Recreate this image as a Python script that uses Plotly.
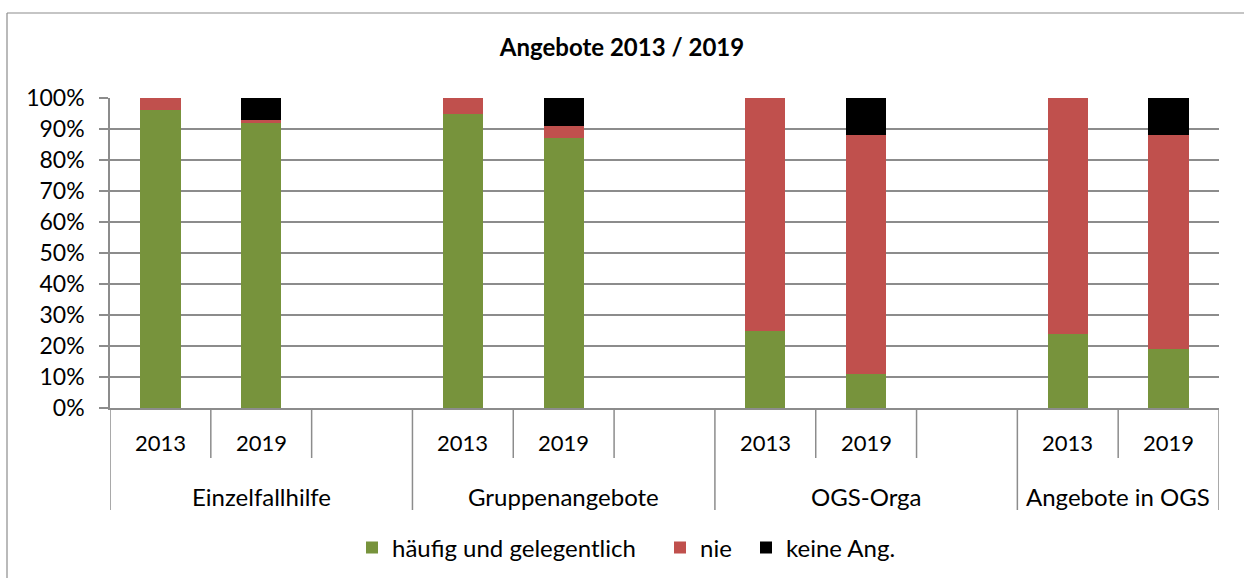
import plotly.graph_objects as go

groups = ["Einzelfallhilfe", "Gruppenangebote", "OGS-Orga", "Angebote in OGS"]
years = ["2013", "2019"]
series_names = ["häufig und gelegentlich", "nie", "keine Ang."]
haeufig = [96, 92, 95, 87, 25, 11, 24, 19]
nie = [4, 1, 5, 4, 75, 77, 76, 69]
keine = [0, 7, 0, 9, 0, 12, 0, 12]
y_ticks = [0, 10, 20, 30, 40, 50, 60, 70, 80, 90, 100]
title_text = "Angebote 2013 / 2019"

colors = ["#77933C", "#C0504D", "#000000"]
FONT = "Lato"
FS = 24
GRID = "#8C8C8C"
FW, FH = 1244, 578

# slot positions: each group has 2 year slots followed by an empty slot
pos = []
for g in range(len(groups)):
    for k in range(len(years)):
        pos.append(3 * g + k)
n_slots = 3 * len(groups) - 1

# plot area geometry (px)
L, R = 110, 1219
T, B = 98, 408
H = B - T
W = R - L
def py(p):
    return (B - p) / H
def px(p):
    return (p - L) / W

legend_ids = ["legend2", "legend3", "legend4"]
legend_text_x = [392, 700, 786]

fig = go.Figure()
for name, vals, col, lid in zip(series_names, [haeufig, nie, keine], colors, legend_ids):
    fig.add_trace(go.Bar(x=pos, y=vals, name=name, marker=dict(color=col, line=dict(width=0)),
                         width=0.4, legend=lid))

shapes = []
for i in range(n_slots + 1):
    xb = i - 0.5
    is_div = (i % 3 == 0) or i == n_slots
    y1 = py(510) if is_div else py(458)
    shapes.append(dict(type="line", xref="x", yref="paper", x0=xb, x1=xb, y0=0, y1=y1,
                       line=dict(color=GRID, width=1.5)))
# outer chart border (left and top visible)
shapes.append(dict(type="line", xref="paper", yref="paper",
                   x0=px(7), x1=px(7), y0=py(600), y1=py(13),
                   line=dict(color="#8C8C8C", width=1.2)))
shapes.append(dict(type="line", xref="paper", yref="paper",
                   x0=px(7), x1=px(1260), y0=py(13), y1=py(13),
                   line=dict(color="#8C8C8C", width=1.2)))

ann = []
for g, gname in enumerate(groups):
    for k, yr in enumerate(years):
        ann.append(dict(x=3 * g + k, y=py(443), xref="x", yref="paper", text=yr,
                        showarrow=False, font=dict(family=FONT, size=22, color="black"),
                        xanchor="center", yanchor="middle"))
    n_in_group = min(3, n_slots - 3 * g)
    cx = 3 * g + (n_in_group - 1) / 2
    ann.append(dict(x=cx, y=py(496), xref="x", yref="paper", text=gname,
                    showarrow=False, font=dict(family=FONT, size=FS, color="black"),
                    xanchor="center", yanchor="middle"))

legends = {}
for lid, tx in zip(legend_ids, legend_text_x):
    legends[lid] = dict(orientation="h", xref="container", yref="container",
                        x=(tx - 40) / FW, xanchor="left",
                        y=1 - 548 / FH, yanchor="middle", bgcolor="rgba(0,0,0,0)",
                        font=dict(family=FONT, size=FS, color="black"), itemwidth=30)

fig.update_layout(
    width=FW, height=FH,
    margin=dict(l=L, r=FW - R, t=T, b=FH - B, autoexpand=False),
    paper_bgcolor="white", plot_bgcolor="white",
    barmode="stack",
    showlegend=True,
    title=dict(text="<b>" + title_text + "</b>", x=622 / FW, xanchor="center",
               y=1 - 48 / FH, yanchor="middle", yref="container",
               font=dict(family=FONT, size=FS, color="black")),
    xaxis=dict(range=[-0.5, n_slots - 0.5], showticklabels=False, showgrid=False,
               zeroline=False, showline=True, linecolor=GRID, linewidth=1.5, ticks=""),
    yaxis=dict(range=[0, 100], tickvals=y_ticks, ticktext=[f"{v}%" for v in y_ticks],
               showgrid=True, gridcolor=GRID, gridwidth=1.5, zeroline=False,
               showline=True, linecolor=GRID, linewidth=1.5,
               ticks="outside", ticklen=9, tickcolor=GRID, tickwidth=1.5,
               ticklabelstandoff=10,
               tickfont=dict(family=FONT, size=23, color="black")),
    shapes=shapes, annotations=ann,
    bargap=0.6,
    **legends,
)

fig.write_html("out.html", config={"displayModeBar": False},
               post_script="document.body.style.margin='0';")
